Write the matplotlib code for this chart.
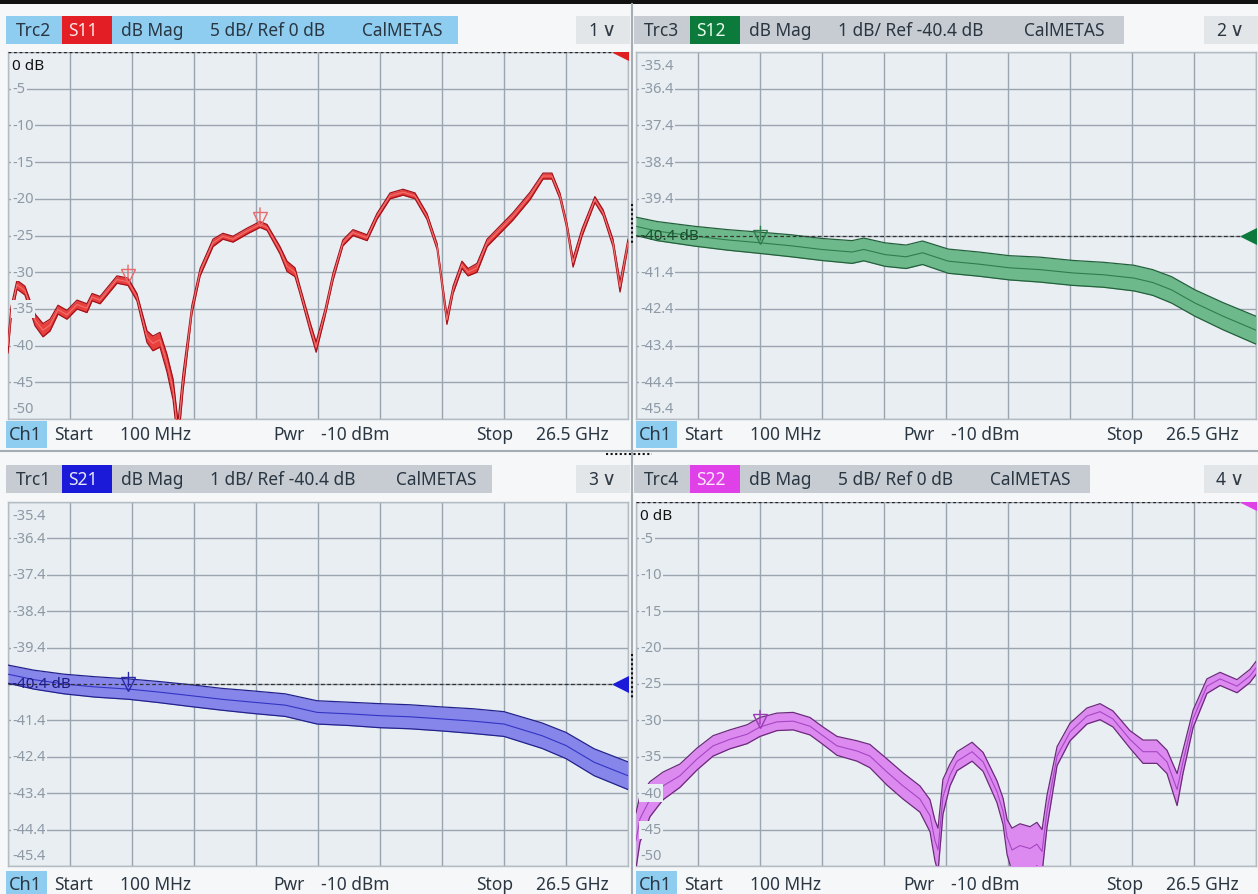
import numpy as np
import matplotlib
matplotlib.use("Agg")
import matplotlib.pyplot as plt
from matplotlib.patches import Rectangle
from matplotlib.lines import Line2D
from matplotlib.transforms import offset_copy

plt.rcParams['font.family'] = ['Noto Sans', 'DejaVu Sans']

W, H = 1258, 895
F_START, F_STOP = 0.1, 26.5

# ---- S11 (GHz, dB, half width of uncertainty band) ----
s11_f = [0.10, 0.23, 0.48, 0.82, 1.25, 1.59, 1.89, 2.23, 2.61, 3.04,
         3.46, 3.68, 4.02, 4.74, 5.21, 5.59, 6.02, 6.27, 6.57, 6.87,
         7.13, 7.34, 7.55, 7.93, 8.28, 8.83, 9.25, 9.68, 10.28, 10.83,
         11.13, 11.68, 11.98, 12.32, 12.53, 12.97, 13.22, 13.60, 13.94, 14.36,
         14.79, 15.39, 15.81, 16.37, 16.92, 17.43, 17.94, 18.37, 18.58, 18.79,
         19.05, 19.43, 19.69, 20.07, 20.50, 21.05, 21.60, 22.33, 22.88, 23.26,
         23.60, 23.90, 24.16, 24.54, 25.09, 25.44, 25.86, 26.16, 26.50]
s11_db = [-40.0, -35.5, -31.7, -32.5, -36.5, -37.9, -37.2, -35.1, -35.8, -34.4,
          -34.9, -33.4, -33.8, -31.0, -31.3, -33.4, -38.8, -39.7, -39.2, -42.4,
          -46.0, -52.0, -45.0, -35.1, -30.0, -26.0, -25.1, -25.5, -24.4, -23.5,
          -23.9, -27.0, -29.2, -30.0, -32.4, -37.5, -40.2, -35.5, -30.6, -26.0,
          -24.6, -25.3, -22.4, -19.6, -19.1, -19.6, -22.4, -26.5, -31.5, -36.5,
          -32.4, -29.0, -30.0, -29.4, -26.0, -24.2, -22.4, -19.6, -16.9, -16.9,
          -19.6, -23.7, -28.7, -24.6, -20.1, -21.9, -26.0, -32.0, -26.0]
s11_hw = [1.0, 0.8, 0.6, 0.6, 0.8, 0.9, 0.8, 0.6, 0.6, 0.6,
          0.6, 0.5, 0.5, 0.5, 0.5, 0.5, 0.8, 1.0, 1.0, 1.2,
          1.4, 1.6, 1.2, 0.6, 0.5, 0.5, 0.4, 0.4, 0.4, 0.4,
          0.4, 0.5, 0.7, 0.6, 0.5, 0.6, 0.7, 0.5, 0.5, 0.4,
          0.4, 0.4, 0.4, 0.4, 0.4, 0.4, 0.4, 0.4, 0.5, 0.6,
          0.5, 0.5, 0.5, 0.6, 0.5, 0.5, 0.5, 0.5, 0.4, 0.4,
          0.4, 0.4, 0.6, 0.5, 0.4, 0.4, 0.5, 0.7, 0.5]

# ---- S12 ----
s12_f = [0.1, 1.0, 2.6, 4.0, 5.4, 6.7, 8.0, 9.3, 9.8, 10.7, 11.6, 12.3,
         13.4, 14.7, 16.0, 17.3, 18.7, 20.0, 21.3, 22.1, 22.9, 23.9, 25.1, 26.5]
s12_db = [-40.15, -40.28, -40.42, -40.52, -40.60, -40.68, -40.78, -40.85, -40.78,
          -40.92, -40.98, -40.87, -41.10, -41.18, -41.28, -41.33, -41.42, -41.47,
          -41.56, -41.68, -41.88, -42.24, -42.60, -42.98]
s12_hw = [0.25, 0.26, 0.27, 0.28, 0.29, 0.30, 0.30, 0.31, 0.31, 0.32, 0.32, 0.32,
          0.33, 0.33, 0.33, 0.34, 0.34, 0.34, 0.35, 0.35, 0.36, 0.36, 0.37, 0.38]

# ---- S21 ----
s21_f = [0.1, 1.2, 2.48, 3.8, 5.23, 6.5, 7.88, 9.2, 10.53, 11.9, 13.26, 14.6,
         15.92, 17.2, 18.57, 19.9, 21.22, 22.84, 23.86, 25.06, 26.5]
s21_db = [-40.13, -40.28, -40.40, -40.48, -40.54, -40.62, -40.72, -40.82, -40.90,
          -40.98, -41.18, -41.22, -41.27, -41.30, -41.36, -41.42, -41.50, -41.82,
          -42.09, -42.55, -42.92]
s21_hw = [0.25, 0.26, 0.27, 0.28, 0.28, 0.29, 0.30, 0.30, 0.31, 0.31, 0.32, 0.32,
          0.33, 0.33, 0.33, 0.34, 0.34, 0.35, 0.36, 0.37, 0.38]

# ---- S22 ----
s22_f = [0.10, 0.27, 0.70, 1.25, 1.97, 2.70, 3.38, 4.10, 4.83, 5.38,
         6.10, 6.79, 7.51, 8.06, 8.66, 9.51, 10.06, 10.79, 11.47, 12.19,
         12.62, 12.83, 12.96, 13.17, 13.47, 13.77, 14.41, 14.88, 15.47, 15.73,
         15.90, 16.11, 16.45, 16.88, 17.17, 17.39, 17.60, 18.03, 18.58, 19.30,
         19.86, 20.41, 21.13, 21.69, 22.28, 22.71, 23.14, 23.39, 23.82, 24.41,
         24.97, 25.69, 26.24, 26.50]
s22_db = [-46.5, -43.5, -40.8, -39.0, -37.6, -35.3, -33.5, -32.6, -31.9, -30.9,
          -30.2, -30.1, -30.8, -32.1, -33.5, -34.2, -34.9, -37.1, -39.0, -40.8,
          -43.1, -46.5, -47.8, -40.5, -37.5, -35.6, -34.3, -35.7, -39.8, -42.5,
          -46.0, -47.8, -47.2, -47.6, -47.0, -48.0, -42.5, -34.9, -31.6, -29.4,
          -28.8, -29.8, -32.6, -34.3, -34.3, -35.7, -39.5, -35.7, -29.8, -25.3,
          -24.3, -25.3, -23.9, -22.8]
s22_hw = [3.8, 3.2, 2.4, 1.9, 1.6, 1.5, 1.4, 1.3, 1.3, 1.3,
          1.2, 1.2, 1.2, 1.2, 1.3, 1.4, 1.6, 1.8, 1.8, 1.8,
          2.2, 2.8, 3.0, 2.4, 1.5, 1.3, 1.3, 1.3, 1.5, 1.8,
          2.4, 3.0, 3.0, 3.0, 3.0, 3.0, 2.2, 1.3, 1.2, 1.1,
          1.1, 1.1, 1.2, 1.6, 1.6, 1.6, 2.2, 1.6, 1.2, 1.0,
          0.9, 0.9, 0.9, 0.9]

# markers (GHz, dB)
s11_markers = [(5.21, -31.3), (10.83, -23.5)]
s12_markers = [(5.40, -40.60)]
s21_markers = [(5.23, -40.54)]
s22_markers = [(5.38, -30.9)]

s11_ticks = ["0 dB", "-5", "-10", "-15", "-20", "-25", "-30", "-35", "-40", "-45", "-50"]
s12_ticks = ["-35.4", "-36.4", "-37.4", "-38.4", "-39.4", "-40.4 dB", "-41.4", "-42.4",
             "-43.4", "-44.4", "-45.4"]

PLOT_BG = "#e9eef2"
GRID = "#9aa5b0"
LABEL = "#8d99a5"
TEXT = "#2a3642"

fig = plt.figure(figsize=(W / 100, H / 100), dpi=100)
fig.patch.set_facecolor("#f5f7f8")


def box(x0, y0, x1, y1, color, **kw):
    fig.add_artist(Rectangle((x0 / W, 1 - y1 / H), (x1 - x0) / W, (y1 - y0) / H,
                             transform=fig.transFigure, facecolor=color,
                             edgecolor="none", **kw))


def txt(x, y, s, **kw):
    kw.setdefault("color", TEXT)
    kw.setdefault("fontsize", 12.5)
    fig.text(x / W, 1 - y / H, s, va="center", **kw)


def hline(x0, x1, y, **kw):
    fig.add_artist(Line2D([x0 / W, x1 / W], [1 - y / H, 1 - y / H],
                          transform=fig.transFigure, **kw))


def vline(x, y0, y1, **kw):
    fig.add_artist(Line2D([x / W, x / W], [1 - y0 / H, 1 - y1 / H],
                          transform=fig.transFigure, **kw))


def panel(x0, y0, x1, y1, f, db, hw, top, bottom, labels, ref, fill, edge, centre,
          tri_color, ref_label_color, markers, mark_color, ref_top):
    ax = fig.add_axes([x0 / W, 1 - y1 / H, (x1 - x0) / W, (y1 - y0) / H])
    ax.set_facecolor(PLOT_BG)
    ax.set_xlim(F_START, F_STOP)
    ax.set_ylim(bottom, top)
    ax.set_xticks(np.linspace(F_START, F_STOP, 11))
    yt = np.linspace(top, bottom, 11)
    ax.set_yticks(yt)
    ax.tick_params(length=0, labelleft=False, labelbottom=False)
    ax.grid(True, color=GRID, lw=1.0)
    ax.set_axisbelow(True)
    for s in ax.spines.values():
        s.set_color("#b4bcc4")
        s.set_linewidth(1.0)

    f = np.array(f)
    db = np.array(db)
    hw = np.array(hw)
    ax.fill_between(f, db - hw, db + hw, color=fill, lw=0, zorder=3)
    ax.plot(f, db + hw, color=edge, lw=0.9, zorder=4)
    ax.plot(f, db - hw, color=edge, lw=0.9, zorder=4)
    ax.plot(f, db, color=centre, lw=0.8, zorder=4)

    # reference line
    if ref_top:
        ax.axhline(ref, color="#222222", lw=1.0, ls=(0, (2, 2)), zorder=5)
        ax.spines["top"].set_visible(False)
    else:
        ax.axhline(ref, color="#333333", lw=0.9, ls=(0, (3, 2)), zorder=5)
    # reference level triangle at right edge
    ax.plot([F_STOP - (F_STOP - F_START) * 0.012], [ref], marker="<", ms=11,
            color=tri_color, zorder=6, clip_on=True)

    # y labels
    tr = ax.get_yaxis_transform()
    for i, (v, lab) in enumerate(zip(yt, labels)):
        if i == 0:
            va, dy = "top", -4
        elif i == len(yt) - 1:
            va, dy = "bottom", 2
        else:
            va, dy = "center", 0
        col = LABEL
        fs = 10.5
        if lab.endswith("dB"):
            col = ref_label_color
            fs = 11
        t = ax.text(0.007, v, lab, transform=offset_copy(tr, fig=fig, y=dy, units="points"),
                    va=va, ha="left", fontsize=fs, color=col, zorder=7)
        if not lab.endswith("dB") and i not in (0, len(yt) - 1):
            t.set_bbox(dict(facecolor=PLOT_BG, edgecolor="none", pad=1.0))

    # markers
    for mf, mv in markers:
        ax.plot([mf], [mv], marker="v", ms=10, mfc="none", mec=mark_color, mew=1.0,
                transform=offset_copy(ax.transData, fig=fig, y=4, units="points"),
                zorder=8)
        ax.annotate("", xy=(mf, mv), xytext=(0, 14), textcoords="offset points",
                    arrowprops=dict(arrowstyle="-", color=mark_color, lw=1.0), zorder=8)
    return ax


def header(x0, y0, y1, bar_end, trc, sp, sp_color, sp_text, scale, cal_x, active, num):
    yc = (y0 + y1) / 2
    box(x0, y0, bar_end, y1, "#8ecdf0" if active else "#c6ccd1")
    txt(x0 + 10, yc, trc)
    box(x0 + 56, y0, x0 + 106, y1, sp_color)
    txt(x0 + 62, yc, sp, color=sp_text)
    txt(x0 + 115, yc, "dB Mag")
    txt(x0 + 204, yc, scale)
    txt(x0 + cal_x, yc, "CalMETAS")
    right = x0 + 624
    box(right - 54, y0, right, y1, "#e3e6e9")
    txt(right - 42, yc, num)
    txt(right - 29, yc, "\u2228", fontsize=14, color="#333d47")


def footer(x0, y0, y1):
    yc = (y0 + y1) / 2
    box(x0, y0, x0 + 41, y1, "#8ecdf0")
    txt(x0 + 3, yc, "Ch1", fontsize=13)
    txt(x0 + 48, yc, "Start")
    txt(x0 + 114, yc, "100 MHz")
    txt(x0 + 267, yc, "Pwr")
    txt(x0 + 315, yc, "-10 dBm")
    txt(x0 + 470, yc, "Stop")
    txt(x0 + 530, yc, "26.5 GHz")


# top black bar
box(0, 0, W, 5, "#111111")

# panels
panel(8, 53, 628, 420, s11_f, s11_db, s11_hw, 0, -50, s11_ticks, 0,
      "#e8403c", "#a3121b", "#f27070", "#e02020", "#111111", s11_markers, "#e86a6a", True)
panel(636, 53, 1256, 420, s12_f, s12_db, s12_hw, -35.4, -45.4, s12_ticks, -40.4,
      "#6db98b", "#23603c", "#2f7d4d", "#0c7a3c", "#174d2c", s12_markers, "#2f7d4d", False)
panel(8, 503, 628, 867, s21_f, s21_db, s21_hw, -35.4, -45.4, s12_ticks, -40.4,
      "#8686ea", "#22228c", "#3434c4", "#1a1ad8", "#1c1c80", s21_markers, "#2a2aa8", False)
panel(636, 503, 1256, 867, s22_f, s22_db, s22_hw, 0, -50, s11_ticks, 0,
      "#dc8af0", "#6c2a7c", "#a646c4", "#e040e8", "#111111", s22_markers, "#9a3ab4", True)

# headers
header(6, 17, 45, 458, "Trc2", "S11", "#e31e24", "#ffe6e6", "5 dB/ Ref 0 dB", 356, True, "1")
header(634, 17, 45, 1124, "Trc3", "S12", "#0b7a3b", "#e8fff0", "1 dB/ Ref -40.4 dB", 390, False, "2")
header(6, 466, 494, 492, "Trc1", "S21", "#1a1ad8", "#e8e8ff", "1 dB/ Ref -40.4 dB", 390, False, "3")
header(634, 466, 494, 1090, "Trc4", "S22", "#e040e8", "#ffe8ff", "5 dB/ Ref 0 dB", 356, False, "4")

# footers
footer(6, 422, 449)
footer(636, 422, 449)
footer(6, 872, 898)
footer(636, 872, 898)

# separators
hline(0, W, 452, color="#a4acb4", lw=1.5)
vline(632, 5, H, color="#a4acb4", lw=1.5)
hline(606, 652, 455, color="#111111", lw=1.5, ls=(0, (1, 1.2)))
vline(632, 205, 245, color="#111111", lw=1.5, ls=(0, (1, 1.2)))
vline(632, 655, 700, color="#111111", lw=1.5, ls=(0, (1, 1.2)))

fig.savefig("out.png", dpi=100, facecolor=fig.get_facecolor())
